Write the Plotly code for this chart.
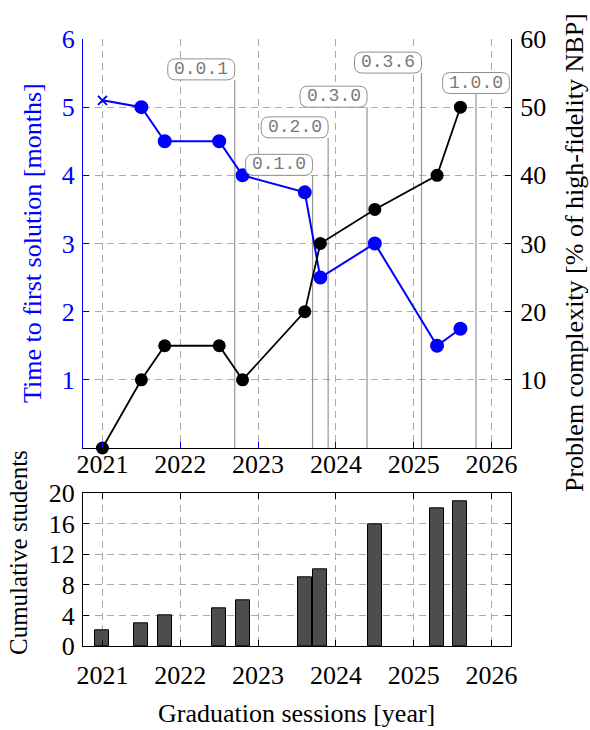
import plotly.graph_objects as go

# Graduation sessions (decimal year)
sessions = [2021.0, 2021.5, 2021.8, 2022.5, 2022.8, 2023.6, 2023.8, 2024.5, 2025.3, 2025.6]
# Time to first solution [months]
time_to_solution = [5.1, 5.0, 4.5, 4.5, 4.0, 3.75, 2.5, 3.0, 1.5, 1.75]
# Problem complexity [% of high-fidelity NBP]
complexity = [0, 10, 15, 15, 10, 20, 30, 35, 40, 50]
# Cumulative number of graduated students
students = [2, 3, 4, 5, 6, 9, 10, 16, 18, 19]

# Software releases
versions = ["0.0.1", "0.1.0", "0.2.0", "0.3.0", "0.3.6", "1.0.0"]
release_dates = [2022.7, 2023.7, 2023.9, 2024.4, 2025.1, 2025.8]
release_marker_top = [5.4, 4.0, 4.55, 5.0, 5.5, 5.2]  # in months-axis units

year_ticks = [2021, 2022, 2023, 2024, 2025, 2026]
months_ticks = [1, 2, 3, 4, 5, 6]
complexity_ticks = [10, 20, 30, 40, 50, 60]
student_ticks = [0, 4, 8, 12, 16, 20]

SERIF = "Liberation Serif"
MONO = "Liberation Mono"
BLUE = "#0000ff"
GRID = "#ababab"
DASH = "7px,5px"
TICK_SIZE = 26
TITLE_SIZE = 26

W, H = 590, 730
x_dom = [83 / W, 511 / W]
top_dom = [1 - 448 / H, 1 - 39 / H]
bot_dom = [1 - 646 / H, 1 - 493.3 / H]
x_range = [2020.75, 2026.25]

fig = go.Figure()

# first session is marked with a cross, the others with dots
symbols = ["x-thin"] + ["circle"] * (len(sessions) - 1)
sizes = [9] + [12] * (len(sessions) - 1)
fig.add_trace(go.Scatter(
    x=sessions, y=time_to_solution, mode="lines+markers",
    line=dict(color=BLUE, width=2),
    marker=dict(symbol=symbols, size=sizes, opacity=1,
                color=BLUE, line=dict(color=BLUE, width=2)),
    xaxis="x", yaxis="y", cliponaxis=False, showlegend=False,
))
fig.add_trace(go.Scatter(
    x=sessions, y=complexity, mode="lines+markers",
    line=dict(color="black", width=1.8),
    marker=dict(symbol="circle", size=13, color="black", opacity=1),
    xaxis="x", yaxis="y2", cliponaxis=False, showlegend=False,
))
fig.add_trace(go.Bar(
    x=sessions, y=students, width=0.18,
    marker=dict(color="#4d4d4d", line=dict(color="black", width=1)),
    xaxis="x2", yaxis="y3", showlegend=False,
))

shapes = []
annotations = []
BOX_W, BOX_H, R = 67, 21, 8
for i, (ver, date, top) in enumerate(zip(versions, release_dates, release_marker_top)):
    shapes.append(dict(type="line", xref="x", yref="y", x0=date, x1=date, y0=0, y1=top,
                       line=dict(color="#959595", width=1.2), layer="between"))
    # label box sits on top of the release line, right-aligned except for the last one
    if i == len(versions) - 1:
        x0, x1 = -BOX_W / 2, BOX_W / 2
    else:
        x0, x1 = -BOX_W, 0
    y0, y1 = 0, BOX_H
    path = (f"M{x0 + R},{y0} L{x1 - R},{y0} Q{x1},{y0} {x1},{y0 + R} "
            f"L{x1},{y1 - R} Q{x1},{y1} {x1 - R},{y1} L{x0 + R},{y1} "
            f"Q{x0},{y1} {x0},{y1 - R} L{x0},{y0 + R} Q{x0},{y0} {x0 + R},{y0} Z")
    shapes.append(dict(type="path", xref="x", yref="y", xsizemode="pixel", ysizemode="pixel",
                       xanchor=date, yanchor=top, path=path,
                       line=dict(color="#8f8f8f", width=1), fillcolor="white", layer="above"))
    annotations.append(dict(x=date, y=top, xref="x", yref="y", text=ver, showarrow=False,
                            xanchor="center", yanchor="middle",
                            xshift=(x0 + x1) / 2, yshift=BOX_H / 2 + 0.5,
                            font=dict(family=MONO, size=18, color="#7a7a7a")))

# axis titles
title_common = dict(xref="paper", yref="paper", showarrow=False, xanchor="center", yanchor="middle")
annotations += [
    dict(x=32 / W, y=1 - 243 / H, text="Time to first solution [months]", textangle=-90,
         font=dict(family=SERIF, size=TITLE_SIZE, color=BLUE), **title_common),
    dict(x=575 / W, y=1 - 253 / H, text="Problem complexity [% of high-fidelity NBP]", textangle=-90,
         font=dict(family=SERIF, size=TITLE_SIZE, color="black"), **title_common),
    dict(x=18 / W, y=1 - 553 / H, text="Cumulative students", textangle=-90,
         font=dict(family=SERIF, size=25, color="black"), **title_common),
    dict(x=296 / W, y=1 - 713 / H, text="Graduation sessions [year]",
         font=dict(family=SERIF, size=TITLE_SIZE, color="black"), **title_common),
]

tickfont = dict(family=SERIF, size=TICK_SIZE, color="black")

fig.update_layout(
    width=W, height=H, autosize=False,
    margin=dict(l=0, r=0, t=0, b=0, pad=0, autoexpand=False),
    paper_bgcolor="white", plot_bgcolor="white",
    font=dict(family=SERIF, size=TICK_SIZE, color="black"),
    bargap=0,
    shapes=shapes, annotations=annotations,
    xaxis=dict(domain=x_dom, range=x_range, anchor="y", tickvals=year_ticks,
               showline=True, linecolor="black", linewidth=1,
               ticks="inside", ticklen=6, tickcolor=BLUE, ticklabelstandoff=-7,
               showgrid=True, gridcolor=GRID, griddash=DASH, gridwidth=1,
               zeroline=False, tickfont=tickfont),
    yaxis=dict(domain=top_dom, range=[0, 6], anchor="x", tickvals=months_ticks,
               showline=True, linecolor=BLUE, linewidth=1,
               ticks="inside", ticklen=6, tickcolor=BLUE, ticklabelstandoff=2,
               showgrid=True, gridcolor=GRID, griddash=DASH, gridwidth=1,
               zeroline=False, tickfont=dict(family=SERIF, size=TICK_SIZE, color=BLUE)),
    yaxis2=dict(overlaying="y", side="right", anchor="x", range=[0, 60], tickvals=complexity_ticks,
                showline=True, linecolor="black", linewidth=1,
                ticks="inside", ticklen=6, tickcolor="black", ticklabelstandoff=3,
                showgrid=False, zeroline=False, tickfont=tickfont),
    xaxis2=dict(domain=x_dom, range=x_range, anchor="y3", tickvals=year_ticks,
                showline=True, linecolor="black", linewidth=1, mirror="ticks",
                ticks="inside", ticklen=6, tickcolor="black", ticklabelstandoff=6,
                showgrid=True, gridcolor=GRID, griddash=DASH, gridwidth=1,
                zeroline=False, tickfont=tickfont),
    yaxis3=dict(domain=bot_dom, range=[0, 20], anchor="x2", tickvals=student_ticks,
                showline=True, linecolor="black", linewidth=1, mirror="ticks",
                ticks="inside", ticklen=6, tickcolor="black", ticklabelstandoff=2,
                showgrid=True, gridcolor=GRID, griddash=DASH, gridwidth=1,
                zeroline=False, tickfont=tickfont),
)

fig.write_html("out.html")
